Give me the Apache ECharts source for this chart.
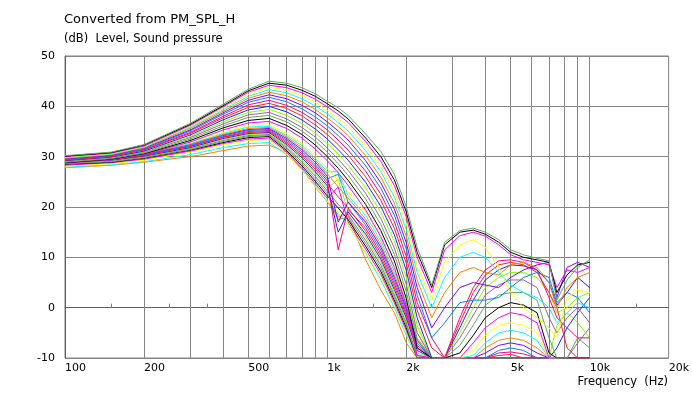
<!DOCTYPE html>
<html>
<head>
<meta charset="utf-8">
<script src="https://cdn.jsdelivr.net/npm/echarts@6/dist/echarts.min.js"></script>
<style>
html,body{margin:0;padding:0;background:#fff;}
#chart{width:692px;height:393px;}
</style>
</head>
<body>
<div id="chart"></div>
<script>
// Frequencies (Hz) shared by all curves
const freqs = [100,150,200,300,400,500,600,700,800,900,1000,1100,1200,1400,1600,1800,2000,2200,2500,2800,3200,3600,4000,4500,5000,5600,6300,7000,7500,8200,9000,10000];

// Level (dB) per curve
const u0  = [30.2,30.9,32.4,36.6,40.4,43.4,45.0,44.6,43.7,42.5,41.0,39.7,38.2,34.5,31.0,26.5,20.0,12.0, 4.5,13.0,15.3,15.8,15.0,13.5,11.5,10.5,9.8,9.3,1.5,5.5,8.0,9.5];
const u1  = [30.1,30.8,32.3,36.4,40.1,43.1,44.6,44.2,43.2,42.0,40.5,39.1,37.5,33.7,30.0,25.4,19.0,11.0, 4.0,12.5,15.0,15.4,14.6,13.0,11.0,10.0,9.5,9.0,3.0,6.5,8.5,9.0];
const u2  = [30.0,30.7,32.1,36.2,39.9,42.8,44.2,43.7,42.7,41.4,39.9,38.4,36.8,33.0,29.0,24.3,18.0,10.0, 3.0,11.5,14.3,15.0,14.2,12.5,10.5,9.5,9.0,8.5,4.0,7.5,7.0,8.0];
const u3  = [29.9,30.6,32.0,36.0,39.6,42.4,43.8,43.2,42.1,40.8,39.2,37.6,36.0,32.1,28.0,23.2,16.8,8.5, 1.5,9.0,12.5,13.5,12.0,8.0,3.0,0.0,-2.0,-4.0,-6.0,2.0,3.5,3.0];
const u4  = [29.8,30.5,31.9,35.8,39.3,42.0,43.3,42.7,41.5,40.1,38.5,36.8,35.1,31.2,27.0,22.0,15.5,7.0, 0.0,6.0,10.0,11.0,10.0,7.0,4.5,3.0,2.0,0.0,-3.0,-1.0,1.0,0.0];
const u5  = [29.7,30.4,31.8,35.6,39.0,41.6,42.8,42.1,40.9,39.4,37.7,36.0,34.2,30.2,25.9,20.8,14.2,5.5, -2.0,3.0,7.0,8.0,7.0,6.5,8.5,9.0,8.0,5.0,0.0,4.0,6.0,7.0];
const u6  = [29.6,30.3,31.7,35.3,38.7,41.2,42.3,41.5,40.2,38.7,36.9,35.1,33.3,29.2,24.8,19.6,12.9,4.0, -4.0,0.0,4.0,5.0,4.5,4.0,6.0,7.5,8.5,9.0,2.0,8.0,9.0,8.0];
const u7  = [29.5,30.2,31.5,35.1,38.4,40.8,41.8,40.9,39.5,37.9,36.1,34.2,32.3,28.2,23.7,18.4,11.6,2.5, -6.0,-3.0,1.0,1.5,1.5,2.0,4.0,6.0,7.0,6.0,1.0,3.0,2.0,-1.0];
const u8  = [29.4,30.1,31.4,34.8,38.0,40.3,41.2,40.2,38.8,37.1,35.3,33.3,31.3,27.1,22.5,17.1,10.2,1.0, -6.0,-10,-2.0,4.0,7.5,9.3,9.5,9.0,7.5,2.0,-2.0,-4.0,-6.0,-6.0];
const u9  = [29.3,30.0,31.3,34.6,37.7,39.8,40.6,39.6,38.1,36.3,34.4,32.4,30.3,26.0,21.3,15.8,8.8,-0.5, -8.0,-10,-3.0,3.0,6.5,8.5,9.0,8.5,7.0,3.0,0.0,-8.0,-10,-10];
const u10 = [29.2,29.9,31.1,34.3,37.3,39.3,40.0,38.9,37.3,35.5,33.5,31.4,29.3,24.9,20.1,14.5,7.4,-2.0, -10,-10,-4.0,1.5,5.5,7.5,8.5,8.3,7.5,5.0,0.5,3.0,6.0,4.0];
const u11 = [29.1,29.8,31.0,34.0,36.9,38.8,39.4,38.2,36.6,34.7,32.6,30.5,28.3,23.8,18.9,13.2,6.0,-3.5, -10,-10,-5.0,0.0,4.0,6.0,7.0,7.0,6.0,3.0,-1.0,0.0,2.0,3.0];
const u12 = [29.0,29.7,30.9,33.8,36.5,38.3,38.8,37.5,35.8,33.9,31.7,29.5,27.3,22.7,17.7,11.9,4.6,-5.0, -10,-10,-6.0,-1.5,2.5,4.5,5.5,5.5,4.0,-2.0,-5.0,-2.0,0.0,-3.0];
const u13 = [28.9,29.6,30.7,33.5,36.1,37.8,38.2,36.9,35.1,33.1,30.9,28.6,26.3,21.6,16.5,10.6,3.2,-6.5, -10,-10,-7.5,-3.5,0.5,2.5,3.0,3.0,1.5,-6.0,-10,-10,-6.0,-8.0];
const u14 = [28.8,29.5,30.6,33.2,35.7,37.2,37.6,36.2,34.4,32.3,30.0,27.7,25.3,20.5,15.3,9.3,1.8,-8.0, -10,-10,-9.0,-5.5,-2.0,0.0,1.0,0.5,-1.0,-9.0,-10,-10,-10,-10];
const u15 = [28.7,29.4,30.5,32.9,35.3,36.7,37.0,35.6,33.7,31.5,29.2,26.8,24.3,19.4,14.1,8.0,0.4,-9.5, -10,-10,-10,-7.0,-4.0,-2.0,-1.0,-1.5,-3.0,-10,-10,-10,-10,-10];
const l0  = [29.6,30.0,30.8,32.8,34.8,36.1,36.3,34.6,32.6,30.2,27.6,25.3,23.0,19.0,14.0,8.0,2.0,-4.0, -10,-10,-10,-8.5,-5.5,-3.5,-3.0,-3.5,-5.0,-10,-10,-10,-10,-10];
const l1  = [29.5,29.9,30.7,32.6,34.6,35.9,36.0,34.2,32.2,29.7,27.0,27.0,22.3,18.3,13.3,7.2,1.2,-5.0, -10,-10,-10,-9.5,-7.0,-5.0,-4.5,-5.0,-6.5,-10,-10,-10,-10,-10];
const l2  = [29.4,29.8,30.6,32.5,34.4,35.6,35.8,33.9,31.8,29.3,26.6,24.0,21.8,17.6,12.6,6.5,0.5,-6.0, -10,-10,-10,-10,-8.0,-6.5,-6.0,-6.5,-8.0,-10,-10,-10,-10,-10];
const l3  = [29.3,29.7,30.5,32.4,34.3,35.4,35.6,33.6,31.4,28.9,26.1,17.0,21.0,17.0,12.0,6.0,0.0,-6.5, -10,-10,-10,-10,-9.0,-7.5,-7.0,-7.5,-9.0,-10,-10,-10,-10,-10];
const l4  = [29.2,29.6,30.4,32.2,34.1,35.2,35.4,33.3,31.0,28.4,25.6,26.5,21.0,16.4,11.4,5.4,-0.5,-7.0, -10,-10,-10,-10,-10,-8.5,-8.0,-8.5,-10,-10,-10,-10,-10,-10];
const l5  = [29.1,29.5,30.3,32.1,33.9,35.0,35.2,33.0,30.6,28.0,25.2,11.5,19.5,15.8,10.8,4.8,-1.0,-7.5, -10,-10,-10,-10,-10,-9.0,-8.8,-9.2,-10,-10,-10,-10,-10,-10];
const l6  = [29.0,29.4,30.2,32.0,33.8,34.8,35.0,32.7,30.2,27.5,24.7,22.0,19.8,15.2,10.2,4.2,-1.5,-8.0, -10,-10,-10,-10,-10,-9.5,-9.3,-10,-10,-10,-10,-10,-10,-10];
const l7  = [28.9,29.3,30.1,31.8,33.6,34.6,34.8,32.4,29.8,27.0,24.2,15.0,19.0,14.6,9.6,3.6,-2.0,-8.5, -10,-10,-10,-10,-10,-10,-10,-10,-10,-10,-8.0,-4.0,-1.0,2.0];
const l8  = [28.8,29.2,30.0,31.7,33.4,34.4,34.6,32.1,29.4,26.6,23.7,25.5,19.2,14.0,9.0,3.0,-2.5,-9.0, -10,-10,-10,-10,-10,-10,-10,-10,-10,-10,-3.5,-1.0,-3.0,-6.0];
const l9  = [28.7,29.1,29.9,31.6,33.2,34.2,34.4,31.8,29.0,26.1,23.2,20.5,18.5,13.4,8.4,2.5,-3.0,-9.5, -10,-10,-10,-10,-10,-10,-10,-10,-10,-10,-10,-10,-7.0,-4.0];
const l10 = [28.6,29.0,29.8,31.4,33.0,34.0,34.2,31.5,28.6,25.6,22.7,17.5,18.0,12.8,7.8,2.0,-3.5,-10, -10,-10,-10,-10,-10,-10,-10,-10,-10,-10,-10,-10,-10,-10];
const l11 = [28.5,28.9,29.7,31.3,32.8,33.8,34.0,31.2,28.2,25.1,22.2,19.8,17.5,12.2,7.2,1.5,-4.0,-10, -10,-10,-10,-10,-10,-10,-10,-10,-10,-10,-10,-10,-10,-10];
const l12 = [28.3,28.8,29.5,31.1,32.6,33.5,33.7,30.9,27.8,24.6,21.7,24.0,17.0,11.6,6.6,1.0,-4.5,-10, -10,-10,-10,-10,-10,-10,-10,-10,-10,-10,-10,-10,-10,-10];
const l13 = [28.1,28.6,29.3,30.9,32.3,33.2,33.4,30.5,27.3,24.1,21.2,19.0,16.5,11.0,6.0,0.5,-5.0,-10, -10,-10,-10,-10,-10,-10,-10,-10,-10,-10,-10,-10,-10,-10];
const l14 = [27.9,28.4,29.0,30.4,31.8,32.6,32.8,30.4,27.4,24.2,21.0,18.5,16.5,10.8,5.5,0.0,-5.5,-10, -10,-10,-10,-10,-10,-10,-10,-10,-10,-10,-10,-10,-10,-10];
const l15 = [27.8,28.3,28.9,30.0,31.2,32.1,32.3,30.9,27.5,24.0,21.0,18.0,18.5,9.5,3.5,-1.0,-7.0,-10, -10,-10,-10,-10,-10,-10,-10,-10,-10,-10,-10,-10,-10,-10];

const curves = [l15,l14,l13,l12,l11,l10,l9,l8,l7,l6,l5,l4,l3,l2,l1,l0,u15,u14,u13,u12,u11,u10,u9,u8,u7,u6,u5,u4,u3,u2,u1,u0];

// Axis ticks / labels
const xLabelValues = [100,200,500,1000,2000,5000,10000,20000];
const xLabelTexts  = ['100','200','500','1k','2k','5k','10k','20k'];
const xGridValues  = [200,300,400,500,600,700,800,900,1000,2000,3000,4000,5000,6000,7000,8000,9000,10000];
const xMinorTicks  = [150,250,350,1500,2500,15000];

const palette = ['#000000','#ff00ff','#ffff00','#00ffff','#ff8000','#8000ff','#0080ff','#ff0080','#ff2020','#2020ff','#80ff00','#a060a0','#60a860'];

const FONT = 'DejaVu Sans';
const chart = echarts.init(document.getElementById('chart'), null, {renderer: 'canvas'});

const series = curves.map((vals, i) => ({
  type: 'line',
  data: freqs.map((f, j) => [f, vals[j]]),
  showSymbol: false,
  symbol: 'none',
  silent: true,
  lineStyle: {width: 1, color: palette[(curves.length - 1 - i + 12) % palette.length]},
  z: 2
}));
series[0].markLine = {
  silent: true,
  symbol: ['none','none'],
  z: 1,
  label: {show: false},
  lineStyle: {color: '#868686', type: 'solid', width: 1},
  emphasis: {disabled: true},
  data: xGridValues.map(v => ({xAxis: v}))
};

chart.setOption({
  animation: false,
  backgroundColor: '#ffffff',
  title: [
    {text: 'Converted from PM_SPL_H', left: 64, top: 13, padding: 0,
     textStyle: {fontSize: 13, fontWeight: 'normal', color: '#000', fontFamily: FONT}},
    {text: '(dB)  Level, Sound pressure', left: 64, top: 33, padding: 0,
     textStyle: {fontSize: 11.5, fontWeight: 'normal', color: '#000', fontFamily: FONT}},
    {text: 'Frequency  (Hz)', right: 24, top: 376, padding: 0,
     textStyle: {fontSize: 11.5, fontWeight: 'normal', color: '#000', fontFamily: FONT}}
  ],
  grid: {left: 65, right: 23, top: 56, bottom: 35, show: true, borderColor: '#808080', borderWidth: 1, backgroundColor: 'transparent'},
  xAxis: {
    type: 'log', logBase: 10, min: 100, max: 20000,
    axisLine: {show: true, lineStyle: {color: '#606060', width: 1}},
    axisTick: {show: true, inside: true, length: 4, customValues: xMinorTicks, lineStyle: {color: '#808080'}},
    axisLabel: {show: true, customValues: xLabelValues, align: 'left', margin: 5, fontSize: 11, color: '#000', fontFamily: FONT,
      formatter: v => {
        let best = 0, bd = Infinity;
        xLabelValues.forEach((x, k) => { const d = Math.abs(Math.log10(x) - Math.log10(v)); if (d < bd) { bd = d; best = k; } });
        return xLabelTexts[best];
      }},
    splitLine: {show: false},
    minorTick: {show: false}
  },
  yAxis: {
    type: 'value', min: -10, max: 50, interval: 10,
    axisLine: {show: true, lineStyle: {color: '#606060', width: 1}},
    axisTick: {show: false},
    axisLabel: {fontSize: 11, color: '#000', fontFamily: FONT, margin: 10},
    splitLine: {show: true, lineStyle: {color: '#868686', width: 1}}
  },
  series: series
});
</script>
</body>
</html>
